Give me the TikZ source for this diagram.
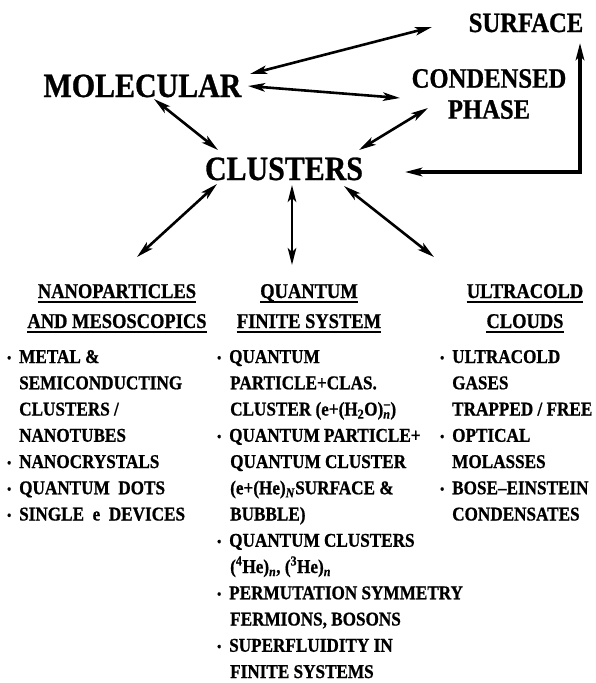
\documentclass[tikz,border=0pt]{standalone}
\usepackage{fontspec}
\setmainfont{Liberation Serif}[FakeStretch=0.88, FakeBold=0.8]
\usetikzlibrary{arrows.meta}
\newcommand\bu{\makebox[12pt][l]{\raisebox{0.1ex}{\fontsize{13}{13}\selectfont\textbullet}}}
\tikzset{
  big/.style={inner sep=0pt, anchor=base, font=\bfseries\fontsize{34}{36}\selectfont},
  mid/.style={inner sep=0pt, font=\bfseries\fontsize{28}{31}\selectfont},
  head/.style={inner sep=0pt, anchor=base, font=\bfseries\fontsize{21}{23}\selectfont},
  item/.style={inner sep=0pt, anchor=base west, font=\bfseries\fontsize{19.5}{21}\selectfont},
  uline/.style={line width=1.4pt},
  dar/.style={line width=2.6pt, {Stealth[length=17pt,width=8.5pt,inset=4pt]}-{Stealth[length=17pt,width=8.5pt,inset=4pt]}},
  dark/.style={line width=3.2pt, {Stealth[length=17pt,width=8.5pt,inset=4pt]}-{Stealth[length=17pt,width=8.5pt,inset=4pt]}}
}
\begin{document}
\begin{tikzpicture}[x=1pt,y=-1pt]
\fill[white] (0,0) rectangle (596,683);
\useasboundingbox (0,0) rectangle (596,683);

% main labels
\node[mid, anchor=base] (surf) at (526,32) {SURFACE};
\node[big] (mol) at (142.5,97) {MOLECULAR};
\node[mid, align=center] (cond) at (489,94) {CONDENSED\\PHASE};
\node[big] (clus) at (284,180) {CLUSTERS};

% connector end points
\coordinate (ms) at (250,74);  \coordinate (sm) at (432,27);
\coordinate (mc) at (248,86);  \coordinate (cm) at (400,98);
\coordinate (mk) at (154,99);  \coordinate (km) at (218,150);
\coordinate (kc) at (359,150); \coordinate (ck) at (428,108);
\coordinate (ks) at (405,172); \coordinate (sk) at (580,43);
\coordinate (kl) at (217,184); \coordinate (lk) at (137,257);
\coordinate (kq) at (292,185); \coordinate (qk) at (292,265);
\coordinate (ku) at (344,186); \coordinate (uk) at (434,257);

\draw[dar] (ms) -- (sm);
\draw[dar] (mc) -- (cm);
\draw[dar] (mk) -- (km);
\draw[dar] (kc) -- (ck);
\draw[dark] (ks) -| (sk);
\draw[dar] (kl) -- (lk);
\draw[dar] (kq) -- (qk);
\draw[dar] (ku) -- (uk);

% headings
\node[head] (h1a) at (117,298) {NANOPARTICLES};
\node[head] (h1b) at (117,328) {AND MESOSCOPICS};
\node[head] (h2a) at (309,298) {QUANTUM};
\node[head] (h2b) at (309,328) {FINITE SYSTEM};
\node[head] (h3a) at (525,298) {ULTRACOLD};
\node[head] (h3b) at (525,328) {CLOUDS};
\foreach \h in {h1a,h1b,h2a,h2b,h3a,h3b}
  \draw[uline] ([yshift=-4pt]\h.base west) -- ([yshift=-4pt]\h.base east);

% left column
\node[item] (a0) at (7,363) {\bu METAL \&};
\node[item] (a1) at (19,389.25) {SEMICONDUCTING};
\node[item] (a2) at (19,415.5) {CLUSTERS /};
\node[item] (a3) at (19,441.75) {NANOTUBES};
\node[item] (a4) at (7,468) {\bu NANOCRYSTALS};
\node[item] (a5) at (7,494.25) {\bu QUANTUM\ \ DOTS};
\node[item] (a6) at (7,520.5) {\bu SINGLE\ \ e\ \ DEVICES};

% middle column
\node[item] (b0) at (217,363) {\bu QUANTUM};
\node[item] (b1) at (230,389.25) {PARTICLE+CLAS.};
\node[item] (b2) at (230,415.5) {CLUSTER (e+(H\textsubscript{2}O)\textsubscript{\textit{n}}\llap{\textsuperscript{--}})};
\node[item] (b3) at (217,441.75) {\bu QUANTUM PARTICLE+};
\node[item] (b4) at (230,468) {QUANTUM CLUSTER};
\node[item] (b5) at (230,494.25) {(e+(He)\textsubscript{\textit{N}}SURFACE \&};
\node[item] (b6) at (230,520.5) {BUBBLE)};
\node[item] (b7) at (217,546.75) {\bu QUANTUM CLUSTERS};
\node[item] (b8) at (230,573) {(\textsuperscript{4}He)\textsubscript{\textit{n}}, (\textsuperscript{3}He)\textsubscript{\textit{n}}};
\node[item] (b9) at (217,599.25) {\bu PERMUTATION SYMMETRY};
\node[item] (b10) at (230,625.5) {FERMIONS, BOSONS};
\node[item] (b11) at (217,651.75) {\bu SUPERFLUIDITY IN};
\node[item] (b12) at (230,678) {FINITE SYSTEMS};

% right column
\node[item] (c0) at (440,363) {\bu ULTRACOLD};
\node[item] (c1) at (452,389.25) {GASES};
\node[item] (c2) at (452,415.5) {TRAPPED / FREE};
\node[item] (c3) at (440,441.75) {\bu OPTICAL};
\node[item] (c4) at (452,468) {MOLASSES};
\node[item] (c5) at (440,494.25) {\bu BOSE--EINSTEIN};
\node[item] (c6) at (452,520.5) {CONDENSATES};
\end{tikzpicture}
\end{document}
